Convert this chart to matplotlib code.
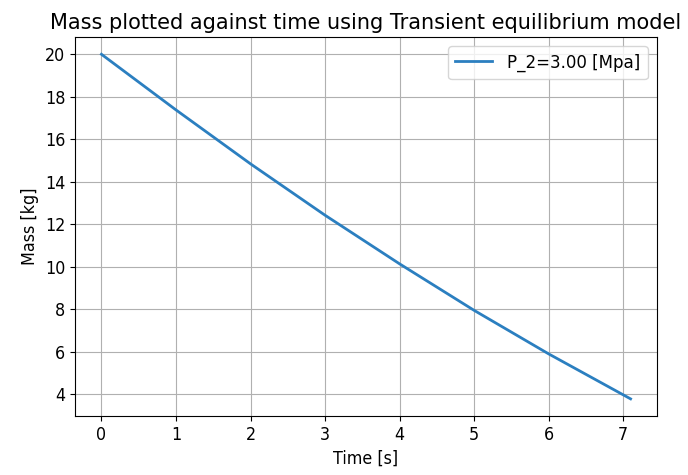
import matplotlib
matplotlib.use("Agg")
import matplotlib.pyplot as plt

# Mass remaining in the vessel over time (transient equilibrium model)
time_s = [0.0, 1.0, 2.0, 3.0, 4.0, 5.0, 6.0, 7.1]
mass_kg = [20.0, 17.38, 14.84, 12.42, 10.13, 7.94, 5.89, 3.77]
series_label = "P_2=3.00 [Mpa]"

plt.rcParams["font.family"] = ["DejaVu Sans"]
plt.rcParams["font.stretch"] = "condensed"
plt.rcParams["font.size"] = 12.8

fig = plt.figure(figsize=(6.88, 4.75), dpi=100)
ax = fig.add_axes([0.109, 0.124, 0.846, 0.798])
ax.plot(time_s, mass_kg, color="#2b7fc0", linewidth=2, label=series_label)
ax.set_title("Mass plotted against time using Transient equilibrium model",
             fontsize=15.0, fontstretch="normal")
ax.set_xlabel("Time [s]")
ax.set_ylabel("Mass [kg]")
ax.set_yticks([4, 6, 8, 10, 12, 14, 16, 18, 20])
ax.grid(True, color="#b0b0b0", linewidth=0.8)
ax.legend(loc="upper right", fontsize=13.3)

fig.savefig("out.png", dpi=100)
